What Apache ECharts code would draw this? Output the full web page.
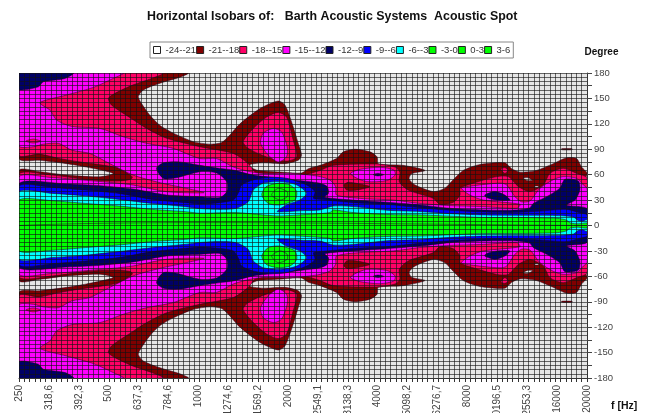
<!DOCTYPE html>
<html><head><meta charset="utf-8">
<style>html,body{margin:0;padding:0;background:#fff}#c{width:645px;height:413px}</style>
<script src="https://cdn.jsdelivr.net/npm/echarts@6/dist/echarts.min.js"></script></head>
<body><div id="c"></div>
<script>
const titleText = 'Horizontal Isobars of:   Barth Acoustic Systems  Acoustic Spot';
const xAxisTitle = 'f [Hz]';
const freqLabels = ['250','318,6','392,3','500','637,3','784,6','1000','1274,6','1569,2','2000','2549,1','3138,3','4000','5098,2','6276,7','8000','10196,5','12553,3','16000','20000'];
const bandNames = ['-24--21','-21--18','-18--15','-15--12','-12--9','-9--6','-6--3','-3-0','0-3','3-6'];
const bandColors = ['#E6E6E6','#800000','#FF0066','#FF00FF','#000066','#0000FF','#00FFFF','#00FF00','#00FF00','#00FF00'];

// Isobar outlines, upper half: [position on the frequency axis, degrees]. The response is mirrored at 0 degrees.
const floor24 = [[0,0],[19,0],[19,180],[0,180]];
const iso21 = [[5.66,180],[5.38,175],[4.72,168],[4.16,160],[3.99,152],[4.10,144],[4.38,130],[4.72,118],[5.16,109],[5.83,99],[6.39,96],[6.78,98],[7.06,107],[7.39,120],[8.06,138],[8.67,147],[8.90,142],[9.12,122],[9.34,97],[9.45,83],[9.34,77],[8.90,73],[8.17,74],[7.73,72],[7.73,69],[8.00,65],[8.84,63],[9.45,62],[9.68,67],[10.07,71],[10.62,79],[10.85,87],[11.24,90],[11.74,87],[11.98,81],[12.02,73],[12.85,71],[13.58,65],[13.13,61],[13.05,55],[13.24,48],[13.86,40],[14.25,44],[14.47,52],[14.86,65],[15.42,72],[16.25,74],[16.48,67],[16.76,63],[17.31,65],[17.87,73],[18.32,80],[18.65,79],[18.82,69],[19,62],[18.95,54],[19,0],[0,0],[0,65],[0.70,63.5],[1.59,59.5],[2.71,57.5],[3.15,61.5],[2.26,69],[1.59,73],[0.70,77],[0,79],[0,180]];
const iso18 = [[4.83,180],[4.44,173.6],[3.82,166],[3.21,156],[2.99,150],[3.10,142],[3.77,126],[4.27,114.6],[4.94,103],[6.05,93],[7.17,85],[7.67,73],[7.95,62],[8.84,59.5],[9.45,59],[10.07,65],[10.51,71],[11.96,72.5],[12.58,69],[12.74,63],[12.72,51.6],[13.02,41.8],[13.86,32],[14.08,25],[14.53,27.4],[14.75,36],[14.75,44],[15.2,50],[15.98,57.7],[16.37,57.7],[16.7,46],[17.09,40],[17.54,48],[17.76,61.6],[18.2,67.5],[18.65,61.6],[19,55.7],[19,0],[0,0],[0,60.7],[1.11,59.5],[2.23,54.4],[3.23,52.4],[3.73,54.4],[3.79,57.5],[3.34,67.4],[2.79,71.3],[2.0,75.2],[1.34,79.2],[0.67,84.3],[0,83.1],[0,180]];
const iso15 = [[3.49,180],[3.15,173.6],[2.49,163],[1.59,154],[0.70,145],[1.04,136],[1.26,124.4],[1.76,117],[2.71,114.6],[3.49,104.7],[4.27,97],[5.16,91],[6.05,79],[6.61,79],[7.17,69],[7.73,63.5],[8.17,61.5],[9.17,61.5],[9.73,59.5],[10.07,57.7],[10.4,53.7],[10.59,45.9],[10.62,36],[11.41,32],[12.52,30],[13.41,26],[14.41,23.5],[15.53,22.3],[16.65,20.3],[16.76,25],[15.53,30],[15.08,36],[14.8,44],[15.2,47],[16.09,50],[16.31,48],[16.59,34],[16.81,28],[17.09,29],[17.43,44],[17.87,54],[18.2,57.7],[18.65,55.7],[18.88,47.8],[19,44],[19,0],[0,0],[0,57.5],[1.04,56.8],[2.15,53.6],[3.15,50.5],[3.82,47.7],[4.94,39.9],[6.19,38.7],[5.61,43.8],[4.72,50.5],[3.82,59.5],[3.04,73],[2.37,85],[1.76,89],[1.32,97],[0.81,96],[0.48,93],[0,94],[0,180]];
const dipOval18 = [[0.23,99.6],[0.48,102],[0.72,99.6],[0.48,97.3]];
const dipBlob21 = [[10.87,47.7],[11.01,51],[11.40,49],[11.74,45.8],[11.29,41.8],[10.96,41.8]];
const lobe18 = [[7.5,99],[7.84,114.6],[8.28,128],[8.67,133.5],[8.95,128],[9.17,101],[9.29,81],[8.95,76],[8.28,81],[7.67,91]];
const lobe15 = [[8.08,97],[8.17,109],[8.51,114.6],[8.78,110.6],[8.97,93],[8.95,81],[8.67,75],[8.34,83]];
const oval15 = [[11.09,61.6],[11.41,66.3],[12.08,68.7],[12.54,65.5],[12.58,59.6],[12.3,53],[11.63,51.8],[11.24,56.9]];
const speck12 = [[11.85,60],[12.0,61.5],[12.2,60],[12.0,58.5]];
const corner12 = [[0,180],[1.82,180],[1.54,173.6],[0.81,169.6],[0.65,163.7],[0,160.6]];
const iso12 = [[0,49.7],[1.59,49],[2.71,47],[3.82,43],[4.94,36],[6.05,34],[6.72,33],[6.95,40],[6.95,51.6],[6.61,62],[6.05,63.5],[5.27,56.4],[4.83,55.6],[4.6,67.4],[4.83,74],[5.38,75],[6.05,71],[6.72,67.4],[7.17,65.4],[7.84,59.5],[8.84,55.6],[9.73,51.6],[10.07,49.8],[10.31,45.9],[10.35,38],[10.23,33.3],[11.18,30],[12.3,27.4],[13.41,24.3],[14.41,20.3],[15.53,18.4],[16.65,18.4],[17.09,21],[17.2,26],[17.65,34],[18.09,44],[18.26,54.5],[18.71,52.6],[18.76,42],[18.6,30],[18.32,24],[19,20],[19,0],[0,0]];
const blob12 = [[15.58,36],[15.92,40],[16.25,36],[16.42,30],[15.98,30],[15.64,33]];
const iso9 = [[0,46.6],[1.11,45],[2.23,41.8],[3.34,37.9],[4.46,30.8],[5.57,26.9],[6.05,25.4],[6.72,27],[7.17,30],[7.33,38],[7.45,47.9],[7.84,53.7],[8.39,56.9],[8.95,55.7],[9.62,47.9],[9.9,40],[9.85,32.1],[10.07,30.9],[11.18,27],[12.3,25],[13.41,21],[14.41,18],[15.53,16],[16.65,15.5],[17.43,17],[18.32,19],[18.76,15],[19,12.5],[19,0],[0,0]];
const iso6 = [[0,39.9],[1.11,37.9],[2.23,35],[3.34,30.8],[4.46,26],[5.57,22.2],[6.05,20],[6.72,19],[7.27,20.3],[7.67,28.2],[7.84,42],[8.17,49.8],[8.73,51.8],[9.29,47.9],[9.62,38],[9.4,30.2],[8.95,24.3],[8.64,16.4],[9.51,17.6],[10.07,18.4],[10.51,23],[11.18,22.3],[12.3,18],[13.41,16.5],[14.41,14],[15.53,12.5],[16.65,12],[17.5,12],[18.2,11.5],[18.55,10],[18.7,6],[18.85,5],[19,7],[19,0],[0,0]];
const iso3 = [[0,30],[1.11,29.3],[2.23,26],[3.34,23],[4.46,19],[5.57,16.3],[6.05,14.5],[7.27,15.2],[8.61,11.3],[9.38,12.5],[10.4,15.2],[10.51,18.4],[11.18,15.2],[12.3,13],[13.41,12.5],[14.41,11],[15.53,9.5],[16.65,9.5],[17.5,9],[18.0,8.5],[18.3,6.5],[18.45,3],[18.7,2],[19,3],[19,0],[0,0]];
const lobe3 = [[8.12,36],[8.27,45.9],[8.67,49.8],[9.06,47.9],[9.29,40],[9.23,30],[8.73,24.3],[8.34,26]];
const lobe0 = [[8.45,36],[8.67,43.9],[8.97,40],[8.97,34],[8.73,30]];
const speckGrey1 = [[16.87,55.7],[17.03,56.5],[17.18,53.3],[17,53]];
const speckGrey2 = [[17.26,46.5],[17.37,46.5],[17.37,45],[17.26,45]];
const speckPink = [[16.12,66.7],[16.25,68.3],[16.37,65.5],[16.25,61.6]];
const dash21 = [[18.15,89.4],[18.5,89.4],[18.5,90.6],[18.15,90.6]];

// Painting order: [band index, outline]
const layers = [
  [0,floor24],[1,iso21],[1,dash21],[2,iso18],[2,lobe18],[2,speckPink],[3,iso15],[3,lobe15],[2,dipOval18],[1,dipBlob21],[3,oval15],
  [4,corner12],[4,iso12],[4,blob12],[4,speck12],[0,speckGrey1],[0,speckGrey2],
  [5,iso9],[6,iso6],[7,iso3],[7,lobe3],[8,lobe0],[9,[]]
];

const chart = echarts.init(document.getElementById('c'), null, {renderer:'canvas'});
const series = layers.map(function (l, i) {
  const pts = l[1], band = l[0];
  return {
    type: 'custom', name: bandNames[band], z: 2 + i / 100, silent: true, animation: false, clip: true,
    xAxisIndex: 0, yAxisIndex: 0, data: pts,
    itemStyle: {color: bandColors[band]},
    renderItem: function (params, api) {
      if (params.dataIndex !== 0) return null;
      const up = pts.map(function (p) { return api.coord(p); });
      const dn = pts.map(function (p) { return api.coord([p[0], -p[1]]); });
      const st = {fill: bandColors[band], stroke: i === 0 ? null : '#220018', lineWidth: 0.5};
      const sm = i === 0 ? 0 : 0.25;
      return {type: 'group', children: [
        {type: 'polygon', shape: {points: up, smooth: sm}, style: st},
        {type: 'polygon', shape: {points: dn, smooth: sm}, style: st}
      ]};
    }
  };
});

const meshLine = {show: true, lineStyle: {color: '#111', width: 1, opacity: 0.62}};
chart.setOption({
  animation: false,
  backgroundColor: '#fff',
  title: {text: titleText, left: 147, top: 11, padding: 0,
    textStyle: {fontFamily: 'Liberation Sans', fontSize: 12.4, fontWeight: 'bold', color: '#111'}},
  graphic: [{type: 'text', left: 611, top: 401, silent: true,
    style: {text: xAxisTitle, fontFamily: 'Liberation Sans', fontSize: 10.5, fontWeight: 'bold', fill: '#111'}}],
  legend: {
    left: 150, top: 42, width: 420, padding: [3, 3, 3, 3], itemGap: 0, itemWidth: 7, itemHeight: 7,
    backgroundColor: '#fff', borderColor: '#888', borderWidth: 1, selectedMode: false,
    textStyle: {fontFamily: 'Liberation Sans', fontSize: 9.5, color: '#333'},
    data: bandNames.map(function (n, i) {
      return {name: n, icon: 'rect', itemStyle: {color: bandColors[i] === '#E6E6E6' ? '#fff' : bandColors[i], borderColor: '#222', borderWidth: 1}};
    })
  },
  grid: {left: 19, top: 73, right: 58, bottom: 35, containLabel: false, outerBoundsMode: 'none'},
  xAxis: [
    {type: 'value', min: 0, max: 19, interval: 1, position: 'bottom', z: 1,
     axisLine: {show: false, onZero: false}, axisTick: {show: false}, splitLine: {show: false},
     axisLabel: {rotate: 90, margin: 7, fontFamily: 'Liberation Sans', fontSize: 10, color: '#444',
       formatter: function (v) { return freqLabels[v]; }}},
    {type: 'value', min: 0, max: 107, interval: 1, position: 'bottom', z: 50,
     axisLine: {show: true, onZero: false, lineStyle: {color: '#333'}}, axisTick: {show: true, length: 4, lineStyle: {color: '#333'}},
     axisLabel: {show: false}, splitLine: meshLine}
  ],
  yAxis: [
    {type: 'value', min: -180, max: 180, interval: 15, position: 'right', z: 50,
     name: 'Degree', nameLocation: 'end', nameGap: 16,
     nameTextStyle: {fontFamily: 'Liberation Sans', fontSize: 10, fontWeight: 'bold', color: '#111', padding: [0, 0, 0, 29]},
     axisLine: {show: true, onZero: false, lineStyle: {color: '#333'}}, axisTick: {show: true, length: 5, lineStyle: {color: '#444'}},
     axisLabel: {margin: 7, fontFamily: 'Liberation Sans', fontSize: 9.5, color: '#444',
       formatter: function (v) { return v % 30 === 0 ? String(v) : ''; }},
     splitLine: meshLine, minorTick: {show: false, splitNumber: 3}, minorSplitLine: meshLine}
  ],
  series: series
});
</script></body></html>
